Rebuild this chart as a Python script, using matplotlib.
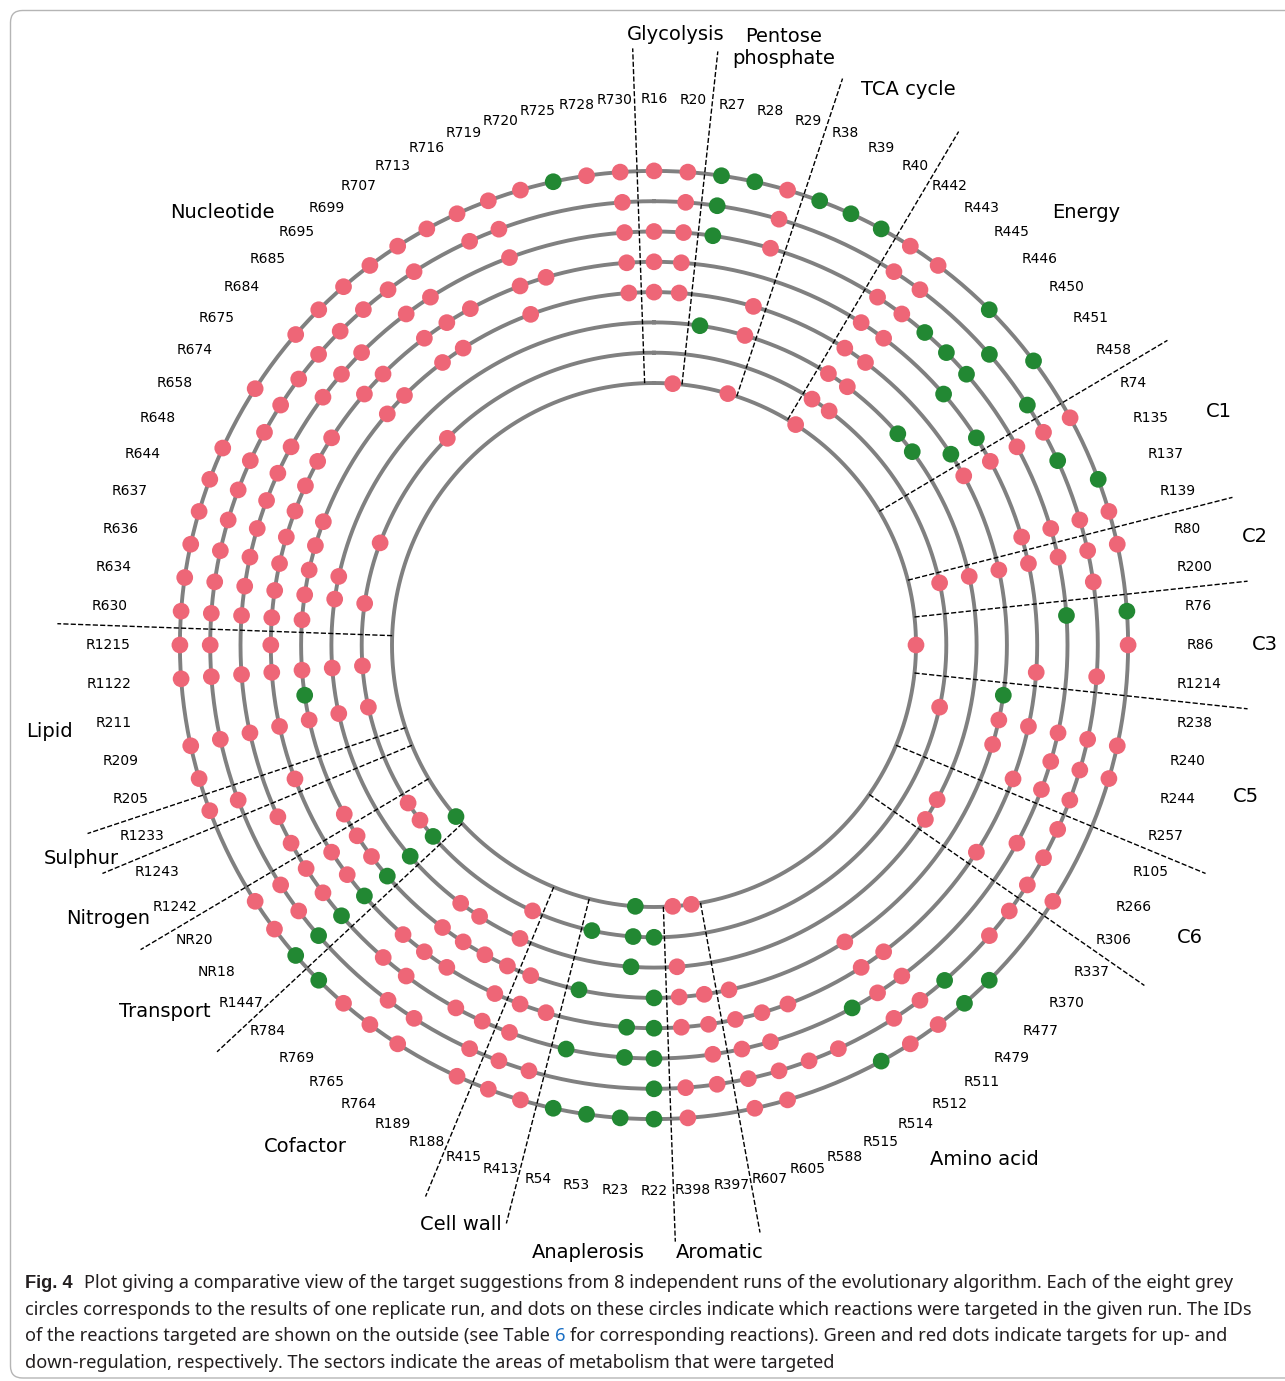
import numpy as np
import matplotlib
matplotlib.use("Agg")
import matplotlib.pyplot as plt
from matplotlib.patches import FancyBboxPatch
from matplotlib.transforms import IdentityTransform

# reaction IDs, clockwise from the top
REACTIONS = [
    "R16", "R20", "R27", "R28", "R29", "R38", "R39", "R40", "R442", "R443", "R445",
    "R446", "R450", "R451", "R458", "R74", "R135", "R137", "R139", "R80", "R200", "R76",
    "R86", "R1214", "R238", "R240", "R244", "R257", "R105", "R266", "R306", "R337", "R370",
    "R477", "R479", "R511", "R512", "R514", "R515", "R588", "R605", "R607", "R397", "R398",
    "R22", "R23", "R53", "R54", "R413", "R415", "R188", "R189", "R764", "R765", "R769",
    "R784", "R1447", "NR18", "NR20", "R1242", "R1243", "R1233", "R205", "R209", "R211",
    "R1122", "R1215", "R630", "R634", "R636", "R637", "R644", "R648", "R658", "R674",
    "R675", "R684", "R685", "R695", "R699", "R707", "R713", "R716", "R719", "R720",
    "R725", "R728", "R730",
]

SECTORS = ["Glycolysis", "Pentose\nphosphate", "TCA cycle", "Energy", "C1", "C2", "C3",
           "C5", "C6", "Amino acid", "Aromatic", "Anaplerosis", "Cell wall", "Cofactor",
           "Transport", "Nitrogen", "Sulphur", "Lipid", "Nucleotide"]
SECTOR_SIZES = [2, 3, 3, 7, 4, 2, 3, 4, 3, 11, 2, 4, 2, 6, 3, 2, 1, 5, 21]

# replicate runs, innermost circle first; up = green, down = red
RUN1_UP = ["R23", "R1447"]
RUN1_DOWN = ["R20", "R29", "R442", "R86", "R397", "R398"]

RUN2_UP = ["R22", "R23", "R54", "R1447"]
RUN2_DOWN = ["R442", "R443", "R80", "R240", "R188", "NR18", "NR20", "R209", "R1122",
             "R634", "R644", "R685"]

RUN3_UP = ["R27", "R450", "R451", "R23", "R1447"]
RUN3_DOWN = ["R29", "R442", "R443", "R80", "R266", "R306", "R398", "R188", "R764", "R765",
             "R209", "R1122", "R634", "R636"]

RUN4_UP = ["R458", "R238", "R22", "R54", "R1447", "R211"]
RUN4_DOWN = ["R16", "R20", "R29", "R442", "R443", "R74", "R80", "R240", "R244", "R512",
             "R607", "R397", "R398", "R415", "R188", "R189", "R764", "R765", "NR18", "NR20",
             "R1242", "R209", "R1122", "R630", "R634", "R636", "R637", "R644", "R684",
             "R685", "R699", "R707", "R719", "R730"]

RUN5_UP = ["R450", "R458", "R22", "R23", "R1447"]
RUN5_DOWN = ["R16", "R20", "R442", "R443", "R74", "R139", "R80", "R1214", "R240", "R257",
             "R306", "R511", "R512", "R588", "R605", "R607", "R397", "R398", "R413", "R415",
             "R188", "R764", "R765", "R769", "NR18", "NR20", "R1233", "R209", "R1122",
             "R1215", "R630", "R634", "R636", "R637", "R644", "R648", "R658", "R674",
             "R684", "R685", "R699", "R707", "R713", "R719", "R720", "R730"]

RUN6_UP = ["R27", "R445", "R446", "R450", "R76", "R514", "R22", "R23", "R54", "R1447"]
RUN6_DOWN = ["R16", "R20", "R29", "R442", "R443", "R74", "R139", "R80", "R240", "R244",
             "R257", "R266", "R511", "R512", "R605", "R607", "R397", "R415", "R188",
             "R189", "R765", "R769", "NR18", "NR20", "R1242", "R1243", "R209", "R1122",
             "R630", "R634", "R636", "R637", "R644", "R648", "R658", "R675", "R684",
             "R685", "R699", "R707", "R719", "R730"]

RUN7_UP = ["R27", "R450", "R458", "R135", "R479", "R22", "R1447"]
RUN7_DOWN = ["R20", "R29", "R442", "R443", "R74", "R139", "R80", "R200", "R1214", "R240",
             "R244", "R257", "R105", "R266", "R306", "R337", "R370", "R511", "R512",
             "R515", "R588", "R605", "R607", "R397", "R398", "R413", "R415", "R188",
             "R764", "R765", "NR18", "NR20", "R1233", "R209", "R1122", "R1215", "R630",
             "R634", "R636", "R637", "R644", "R648", "R658", "R674", "R675", "R684",
             "R685", "R695", "R699", "R707", "R716", "R719", "R730"]

RUN8_UP = ["R27", "R28", "R38", "R39", "R40", "R446", "R451", "R137", "R76", "R477",
           "R479", "R514", "R22", "R23", "R53", "R54", "R784", "R1447", "R725"]
RUN8_DOWN = ["R16", "R20", "R29", "R442", "R443", "R74", "R139", "R80", "R86", "R240",
             "R244", "R306", "R511", "R512", "R605", "R607", "R398", "R413", "R415",
             "R188", "R764", "R765", "R769", "NR18", "NR20", "R1233", "R205", "R209",
             "R1122", "R1215", "R630", "R634", "R636", "R637", "R644", "R648", "R674",
             "R684", "R685", "R695", "R699", "R707", "R713", "R716", "R719", "R720",
             "R728", "R730"]

RUNS = [(RUN1_UP, RUN1_DOWN), (RUN2_UP, RUN2_DOWN), (RUN3_UP, RUN3_DOWN),
        (RUN4_UP, RUN4_DOWN), (RUN5_UP, RUN5_DOWN), (RUN6_UP, RUN6_DOWN),
        (RUN7_UP, RUN7_DOWN), (RUN8_UP, RUN8_DOWN)]

CAPTION = [
    [("Fig. 4", "#231f20", "bold"),
     ("Plot giving a comparative view of the target suggestions from 8 independent runs "
      "of the evolutionary algorithm. Each of the eight grey", "#231f20", "normal")],
    [("circles corresponds to the results of one replicate run, and dots on these circles "
      "indicate which reactions were targeted in the given run. The IDs", "#231f20", "normal")],
    [("of the reactions targeted are shown on the outside (see Table", "#231f20", "normal"),
     ("6", "#1a6fc4", "normal"),
     ("for corresponding reactions). Green and red dots indicate targets for up- and",
      "#231f20", "normal")],
    [("down-regulation, respectively. The sectors indicate the areas of metabolism that "
      "were targeted", "#231f20", "normal")],
]

GREEN = "#228833"
RED = "#ee6677"
GREY = "#808080"

W, H = 1285, 1381
CX, CY = 654, 645          # circle centre in pixels (from top-left)
RMAX = 640
R_IN, R_STEP = 262, 30.3   # innermost circle radius, spacing
R_SECT_OUT = 597
R_LABEL = 546
R_SECTOR_LABEL = 611

fig = plt.figure(figsize=(W / 100, H / 100), dpi=100)
ax = fig.add_axes([(CX - RMAX) / W, (H - CY - RMAX) / H, 2 * RMAX / W, 2 * RMAX / H],
                  projection="polar")
ax.set_theta_zero_location("N")
ax.set_theta_direction(-1)
ax.set_ylim(0, RMAX)
ax.axis("off")

n = len(REACTIONS)
step = 2 * np.pi / n
theta = np.arange(n) * step
radii = R_IN + R_STEP * np.arange(len(RUNS))

full = np.linspace(0, 2 * np.pi, 721)
for r in radii:
    ax.plot(full, np.full_like(full, r), color=GREY, lw=2.8, zorder=1)

# sector boundaries and names
starts = np.cumsum([0] + SECTOR_SIZES[:-1])
for name, s0, size in zip(SECTORS, starts, SECTOR_SIZES):
    a = (s0 - 0.5) * step
    ax.plot([a, a], [R_IN, R_SECT_OUT], color="black", ls="--", lw=1.0, zorder=2)
    mid = (s0 + (size - 1) / 2) * step
    ax.text(mid, R_SECTOR_LABEL, name, ha="center", va="center", fontsize=14,
            linespacing=1.2)

# reaction IDs
for t, lab in zip(theta, REACTIONS):
    ax.text(t, R_LABEL, lab, ha="center", va="center", fontsize=10)

# targets per run
for r, (up, down) in zip(radii, RUNS):
    for ids, col in ((down, RED), (up, GREEN)):
        idx = [REACTIONS.index(x) for x in ids]
        ax.scatter(theta[idx], np.full(len(idx), r), s=145, color=col,
                   edgecolors="none", zorder=3)

# frame round the figure panel
fig.add_artist(FancyBboxPatch((10.5, 3), 1300, H - 13.5,
                              boxstyle="round,pad=0,rounding_size=12",
                              transform=IdentityTransform(), fill=False,
                              edgecolor="#b5b5b5", lw=1.0))

# caption
renderer = fig.canvas.get_renderer()
CAP_FAMILY = ["Noto Sans", "DejaVu Sans"]
BOLD_FAMILY = ["Liberation Sans", "DejaVu Sans"]


def add_text(x, y, s, fs, weight="normal", color="#231f20"):
    fam = BOLD_FAMILY if weight == "bold" else CAP_FAMILY
    return fig.text(x / W, 1 - y / H, s, fontsize=fs, family=fam, fontweight=weight,
                    color=color, va="baseline", ha="left")


def text_width(s, fs, weight="normal"):
    t = add_text(0, 0, s, fs, weight)
    w = t.get_window_extent(renderer).width
    t.remove()
    return w


fs = 12.0
line1 = sum(text_width(s, fs, wt) for s, _, wt in CAPTION[0]) + 0.9 * fs
fs = fs * (1233 - 25) / line1
space = text_width("a a", fs) - text_width("aa", fs)

y = 1288
for parts in CAPTION:
    x = 25
    for s, col, wt in parts:
        t = add_text(x, y, s, fs, wt, col)
        x += t.get_window_extent(renderer).width
        x += 0.9 * fs if wt == "bold" else space
    y += 26.7

fig.savefig("out.png", dpi=100)
